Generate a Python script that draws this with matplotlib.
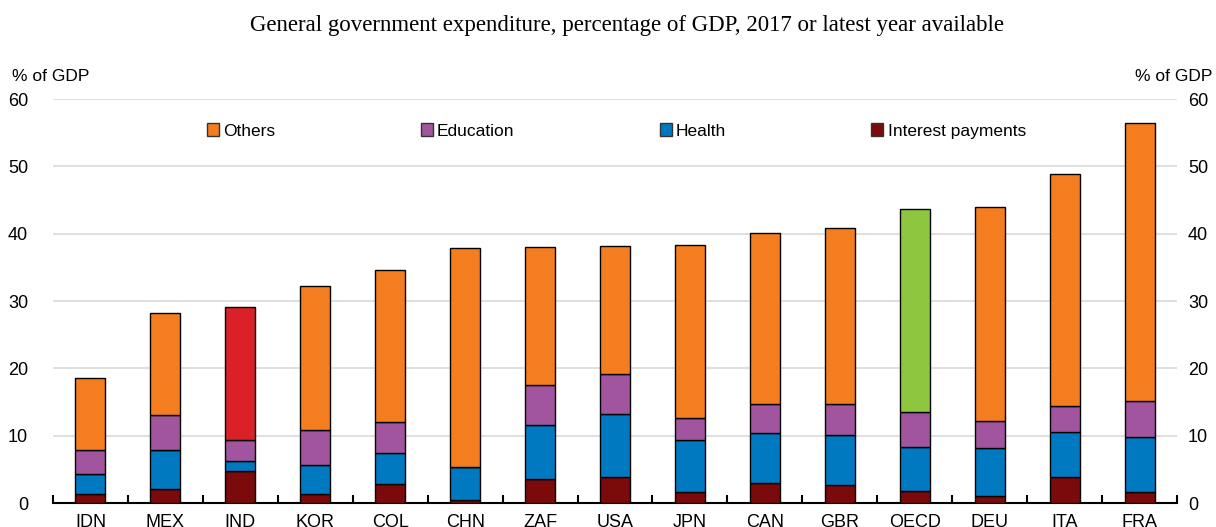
import matplotlib.pyplot as plt
import numpy as np
from matplotlib.patches import Patch

countries = ["IDN", "MEX", "IND", "KOR", "COL", "CHN", "ZAF", "USA",
             "JPN", "CAN", "GBR", "OECD", "DEU", "ITA", "FRA"]
interest = [1.3, 2.1, 4.75, 1.4, 2.8, 0.5, 3.5, 3.9, 1.6, 3.0, 2.7, 1.8, 1.0, 3.85, 1.7]
health = [3.0, 5.7, 1.45, 4.3, 4.7, 4.85, 8.1, 9.3, 7.7, 7.4, 7.45, 6.5, 7.2, 6.75, 8.05]
education = [3.6, 5.3, 3.1, 5.2, 4.6, 0.0, 5.9, 6.0, 3.3, 4.35, 4.6, 5.15, 4.0, 3.8, 5.35]
total = [18.6, 28.2, 29.1, 32.3, 34.6, 37.9, 38.0, 38.1, 38.3, 40.1, 40.9, 43.7, 44.0, 48.8, 56.4]

C_OTHERS = "#F47D20"
C_EDU = "#A1559F"
C_HEALTH = "#0079C1"
C_INT = "#7B0A0A"
C_IND = "#DA2128"
C_OECD = "#8DC63F"

plt.rcParams["font.family"] = ["Liberation Sans", "DejaVu Sans"]

fig = plt.figure(figsize=(12.16, 5.27), dpi=100)
W, H = 1216, 527
ax = fig.add_axes([53 / W, 24 / H, (1177 - 53) / W, (503 - 99) / H])

x = np.arange(len(countries))
interest = np.array(interest)
health = np.array(health)
education = np.array(education)
total = np.array(total)
bottom_edu = interest + health
bottom_oth = bottom_edu + education
others = total - bottom_oth

oth_colors = [C_OTHERS] * len(countries)
oth_colors[countries.index("IND")] = C_IND
oth_colors[countries.index("OECD")] = C_OECD

kw = dict(width=0.4, edgecolor="black", linewidth=1.0, zorder=3)
ax.bar(x, interest, color=C_INT, **kw)
ax.bar(x, health, bottom=interest, color=C_HEALTH, **kw)
ax.bar(x, education, bottom=bottom_edu, color=C_EDU, **kw)
ax.bar(x, others, bottom=bottom_oth, color=oth_colors, **kw)

ax.set_xlim(-0.5, len(countries) - 0.5)
ax.set_ylim(0, 60)
ax.set_yticks(range(0, 61, 10))
ax.yaxis.grid(True, color="#d9d9d9", linewidth=1.2, zorder=0)
for s in ["left", "right", "top"]:
    ax.spines[s].set_visible(False)
ax.spines["bottom"].set_linewidth(1.5)

ax.set_xticks(x)
ax.set_xticklabels(countries, fontsize=13)
ax.set_xticks(np.arange(-0.5, len(countries)), minor=True)
ax.tick_params(axis="x", which="major", length=0, pad=8)
ax.tick_params(axis="x", which="minor", direction="in", length=6, width=1.5)
ax.tick_params(axis="y", length=0, labelsize=13, pad=18)

# right-hand axis repeats the scale
ax2 = ax.twinx()
ax2.set_ylim(ax.get_ylim())
ax2.set_yticks(range(0, 61, 10))
ax2.tick_params(axis="y", length=0, labelsize=13, pad=8)
for s in ax2.spines.values():
    s.set_visible(False)

leg_handles = [Patch(facecolor=C_OTHERS, edgecolor="#333333"),
               Patch(facecolor=C_EDU, edgecolor="#333333"),
               Patch(facecolor=C_HEALTH, edgecolor="#333333"),
               Patch(facecolor=C_INT, edgecolor="#333333")]
leg_labels = ["Others", "Education", "Health", "Interest payments"]
fig.legend(leg_handles, leg_labels, ncol=4, loc="center left",
           bbox_to_anchor=(207 / W, 1 - 131 / H), frameon=False,
           fontsize=12.5, handlelength=0.7, handleheight=0.7,
           handletextpad=0.25, columnspacing=8.35, borderpad=0, borderaxespad=0)

fig.text(12 / W, 1 - 76 / H, "% of GDP", fontsize=12.5, va="center", ha="left")
fig.text(1212 / W, 1 - 76 / H, "% of GDP", fontsize=12.5, va="center", ha="right")
fig.text(627 / W, 1 - 25 / H,
         "General government expenditure, percentage of GDP, 2017 or latest year available",
         fontsize=16.5, ha="center", va="center", family=["Liberation Serif", "DejaVu Serif"])

fig.savefig("out.png", dpi=100)
